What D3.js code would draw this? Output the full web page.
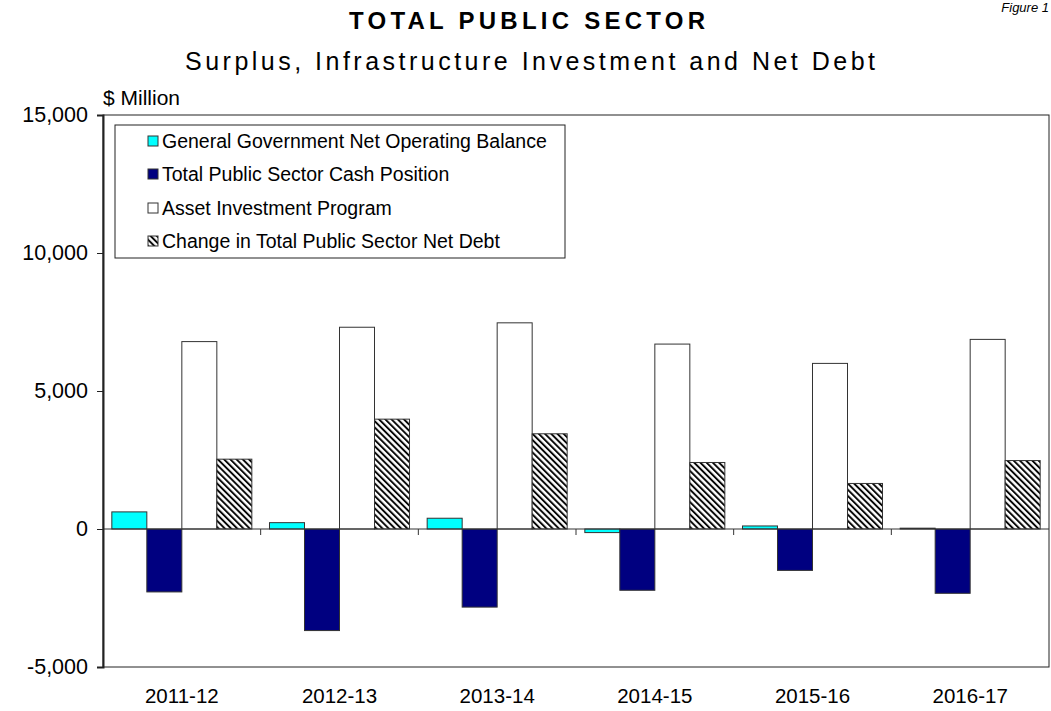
<!DOCTYPE html>
<html>
<head>
<meta charset="utf-8">
<script src="https://cdn.jsdelivr.net/npm/d3@7"></script>
<style>
  html, body { margin: 0; padding: 0; background: #fff; }
  svg { display: block; font-family: "Liberation Sans", Arial, sans-serif; }
</style>
</head>
<body>
<svg id="chart" width="1051" height="711"></svg>
<script>
// Financial years shown along the horizontal axis
const years = ["2011-12", "2012-13", "2013-14", "2014-15", "2015-16", "2016-17"];

// Series values, $ million
const netOperatingBalance = [620, 230, 390, -130, 110, 30];
const cashPosition = [-2280, -3680, -2830, -2220, -1500, -2330];
const assetInvestment = [6790, 7310, 7470, 6700, 6000, 6870];
const netDebtChange = [2530, 3980, 3450, 2410, 1650, 2480];

const seriesNames = [
  "General Government Net Operating Balance",
  "Total Public Sector Cash Position",
  "Asset Investment Program",
  "Change in Total Public Sector Net Debt"
];
const seriesValues = [netOperatingBalance, cashPosition, assetInvestment, netDebtChange];

const yTicks = [-5000, 0, 5000, 10000, 15000];

const svg = d3.select("#chart");
const plot = { left: 103, right: 1049, top: 115, bottom: 667 };

// Diagonal hatch used for the net-debt series
const defs = svg.append("defs");
const hatch = defs.append("pattern")
  .attr("id", "hatch")
  .attr("patternUnits", "userSpaceOnUse")
  .attr("width", 4.4).attr("height", 4.4)
  .attr("patternTransform", "rotate(-45)");
hatch.append("rect").attr("width", 4.4).attr("height", 4.4).attr("fill", "#fff");
hatch.append("line")
  .attr("x1", 1).attr("y1", 0).attr("x2", 1).attr("y2", 4.4)
  .attr("stroke", "#000").attr("stroke-width", 1.9);

const fills = ["#00FFFF", "#000080", "#FFFFFF", "url(#hatch)"];

const x0 = d3.scaleBand()
  .domain(years)
  .range([plot.left, plot.right])
  .paddingInner(0.112)
  .paddingOuter(0.056);

const x1 = d3.scaleBand()
  .domain(d3.range(seriesNames.length))
  .range([0, x0.bandwidth()]);

const y = d3.scaleLinear()
  .domain([-5000, 15000])
  .range([plot.bottom, plot.top]);

// Plot frame
svg.append("rect")
  .attr("x", plot.left).attr("y", plot.top)
  .attr("width", plot.right - plot.left).attr("height", plot.bottom - plot.top)
  .attr("fill", "none").attr("stroke", "#222").attr("stroke-width", 1);

// Bars
const groups = svg.append("g").selectAll("g")
  .data(years)
  .join("g")
  .attr("transform", d => `translate(${x0(d)},0)`);

groups.selectAll("rect")
  .data((d, i) => seriesValues.map((vals, s) => ({ s, v: vals[i] })))
  .join("rect")
  .attr("x", d => x1(d.s))
  .attr("width", x1.bandwidth())
  .attr("y", d => y(Math.max(0, d.v)))
  .attr("height", d => Math.abs(y(d.v) - y(0)))
  .attr("fill", d => fills[d.s])
  .attr("stroke", "#333")
  .attr("stroke-width", 1);

// Zero line with category separators
svg.append("line")
  .attr("x1", plot.left).attr("x2", plot.right)
  .attr("y1", y(0)).attr("y2", y(0))
  .attr("stroke", "#333").attr("stroke-width", 1);

const step = x0.step();
const boundaries = years.slice(1).map(d => x0(d) - step * x0.paddingInner() / 2);
svg.append("g").selectAll("line")
  .data(boundaries)
  .join("line")
  .attr("x1", d => d).attr("x2", d => d)
  .attr("y1", y(0)).attr("y2", y(0) + 6)
  .attr("stroke", "#333").attr("stroke-width", 1);

// Left axis
const comma = d3.format(",");
const yAxis = d3.axisLeft(y)
  .tickValues(yTicks)
  .tickSize(6)
  .tickPadding(9)
  .tickFormat(d => (d < 0 ? "-" : "") + comma(Math.abs(d)));
const gy = svg.append("g")
  .attr("transform", `translate(${plot.left},0)`)
  .call(yAxis);
gy.select(".domain").attr("stroke", "#222").attr("stroke-width", 2);
gy.selectAll(".tick line").attr("stroke", "#222");
gy.selectAll(".tick text")
  .attr("font-size", 21.5)
  .attr("font-family", "Liberation Sans, Arial, sans-serif")
  .attr("fill", "#000");

// Category labels
svg.append("g").selectAll("text")
  .data(years)
  .join("text")
  .attr("x", d => x0(d) + x0.bandwidth() / 2)
  .attr("y", 703)
  .attr("text-anchor", "middle")
  .attr("font-size", 20.5)
  .text(d => d);

// Titles
svg.append("text")
  .attr("x", 349).attr("y", 29)
  .attr("font-size", 24).attr("font-weight", "bold")
  .attr("textLength", 356).attr("lengthAdjust", "spacing")
  .text("TOTAL PUBLIC SECTOR");

svg.append("text")
  .attr("x", 185).attr("y", 70)
  .attr("font-size", 25)
  .attr("textLength", 690).attr("lengthAdjust", "spacing")
  .text("Surplus, Infrastructure Investment and Net Debt");

svg.append("text")
  .attr("x", 103).attr("y", 105)
  .attr("font-size", 21)
  .text("$ Million");

svg.append("text")
  .attr("x", 1049).attr("y", 12)
  .attr("text-anchor", "end")
  .attr("font-size", 13).attr("font-style", "italic")
  .text("Figure 1");

// Legend
const legend = svg.append("g");
legend.append("rect")
  .attr("x", 115).attr("y", 125)
  .attr("width", 450).attr("height", 133)
  .attr("fill", "#fff").attr("stroke", "#222").attr("stroke-width", 1);

const legendRows = [141, 174, 208, 241];
const items = legend.selectAll("g.item")
  .data(seriesNames)
  .join("g")
  .attr("class", "item")
  .attr("transform", (d, i) => `translate(148,${legendRows[i]})`);
items.append("rect")
  .attr("x", 0).attr("y", -5)
  .attr("width", 10).attr("height", 10)
  .attr("fill", (d, i) => fills[i])
  .attr("stroke", "#333").attr("stroke-width", 1);
items.append("text")
  .attr("x", 14).attr("y", 7)
  .attr("font-size", 19.5)
  .text(d => d);
</script>
</body>
</html>
